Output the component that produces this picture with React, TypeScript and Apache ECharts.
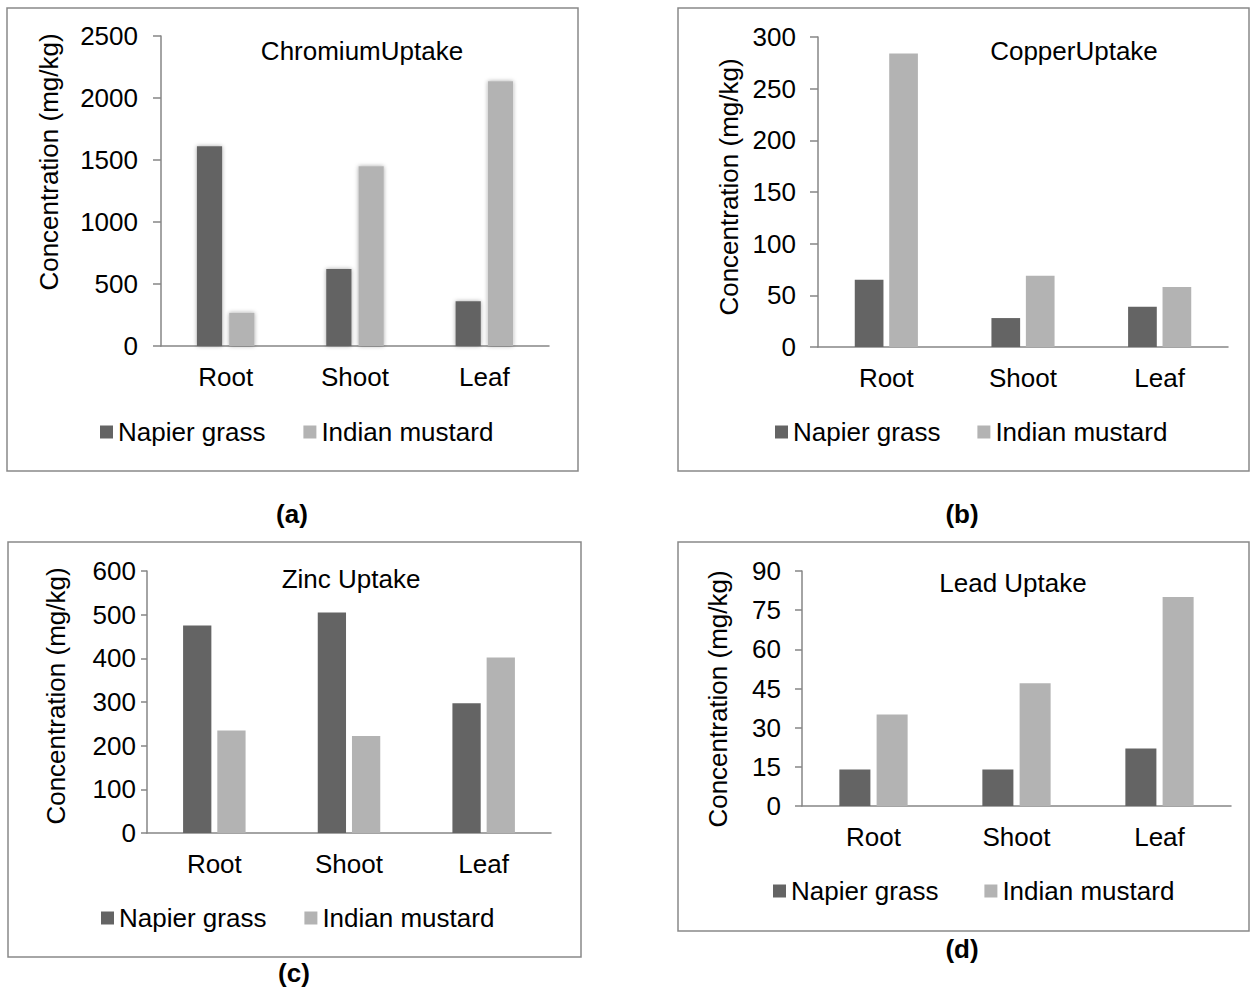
import React, { useEffect, useRef } from "react";
import * as echarts from "echarts";

const categories = ["Root", "Shoot", "Leaf"];
const seriesNames = ["Napier grass", "Indian mustard"];

const chromiumNapier = [1610, 620, 360];
const chromiumMustard = [268, 1450, 2135];
const copperNapier = [65, 28, 39];
const copperMustard = [284, 69, 58];
const zincNapier = [475, 505, 297];
const zincMustard = [235, 222, 402];
const leadNapier = [14, 14, 22];
const leadMustard = [35, 47, 80];

const titles = ["ChromiumUptake", "CopperUptake", "Zinc Uptake", "Lead Uptake"];
const captions = ["(a)", "(b)", "(c)", "(d)"];
const yMax = [2500, 300, 600, 90];
const yStep = [500, 50, 100, 15];
const yAxisTitle = "Concentration (mg/kg)";

const FONT = "Liberation Sans, Arial, sans-serif";
const DARK = "#646464";
const LIGHT = "#b3b3b3";
const AXIS = "#868686";

export default function App() {
  const ref = useRef<HTMLDivElement>(null);
  useEffect(() => {
    if (!ref.current) return;
    const chart = echarts.init(ref.current, null, { renderer: "svg" });

    const grids = [
      { left: 161, top: 36, width: 388, height: 310 },
      { left: 818, top: 37, width: 410, height: 310 },
      { left: 147, top: 571, width: 404, height: 262 },
      { left: 802, top: 571, width: 429, height: 235 },
    ];
    const labelMargins = [23, 22, 11, 21];
    const tickLens = [8, 8, 6, 7];
    const barWidths = ["19.5%", "21%", "21%", "21.7%"];
    const barGaps = ["28%", "20%", "21%", "20%"];
    const data = [
      [chromiumNapier, chromiumMustard],
      [copperNapier, copperMustard],
      [zincNapier, zincMustard],
      [leadNapier, leadMustard],
    ];
    const panels = [
      { x: 7, y: 8, w: 571, h: 463 },
      { x: 678, y: 8, w: 571, h: 463 },
      { x: 8, y: 542, w: 573, h: 415 },
      { x: 678, y: 542, w: 571, h: 389 },
    ];
    const titlePos = [
      [362, 51],
      [1074, 51],
      [351, 579],
      [1013, 583],
    ];
    const yNamePos = [
      [49, 162],
      [729, 187],
      [56, 696],
      [718, 699],
    ];
    const captionPos = [
      [292, 514],
      [962, 514],
      [294, 973],
      [962, 949],
    ];
    const legendPos = [
      { left: 95, top: 414, gap: 38 },
      { left: 770, top: 414, gap: 37 },
      { left: 96, top: 900, gap: 38 },
      { left: 768, top: 873, gap: 46 },
    ];

    const series: any[] = [];
    data.forEach((pair, i) => {
      pair.forEach((vals, j) => {
        const itemStyle: any = { color: j === 0 ? DARK : LIGHT };
        if (i === 0) {
          itemStyle.shadowBlur = 4;
          itemStyle.shadowColor = "rgba(0,0,0,0.35)";
        }
        series.push({
          type: "bar",
          name: seriesNames[j],
          xAxisIndex: i,
          yAxisIndex: i,
          data: vals,
          barWidth: barWidths[i],
          barGap: barGaps[i],
          itemStyle,
        });
      });
    });

    const graphic: any[] = [];
    panels.forEach((p) => {
      graphic.push({
        type: "rect",
        shape: { x: p.x, y: p.y, width: p.w, height: p.h },
        style: { fill: "none", stroke: "#898989", lineWidth: 1.5 },
        silent: true,
      });
    });
    titles.forEach((t, i) => {
      graphic.push({
        type: "text",
        x: titlePos[i][0],
        y: titlePos[i][1],
        style: {
          text: t,
          font: `26px ${FONT}`,
          fill: "#000",
          textAlign: "center",
          textVerticalAlign: "middle",
        },
      });
      graphic.push({
        type: "text",
        x: yNamePos[i][0],
        y: yNamePos[i][1],
        rotation: Math.PI / 2,
        style: {
          text: yAxisTitle,
          font: `26px ${FONT}`,
          fill: "#000",
          textAlign: "center",
          textVerticalAlign: "middle",
        },
      });
      graphic.push({
        type: "text",
        x: captionPos[i][0],
        y: captionPos[i][1],
        style: {
          text: captions[i],
          font: `bold 26px ${FONT}`,
          fill: "#000",
          textAlign: "center",
          textVerticalAlign: "middle",
        },
      });
    });

    const option: any = {
      animation: false,
      backgroundColor: "#fff",
      textStyle: { fontFamily: FONT },
      grid: grids,
      xAxis: grids.map((_, i) => ({
        type: "category",
        gridIndex: i,
        data: categories,
        axisLine: { lineStyle: { color: AXIS, width: 1.5 } },
        axisTick: { show: false },
        axisLabel: { color: "#000", fontSize: 26, fontFamily: FONT, margin: 18 },
      })),
      yAxis: grids.map((_, i) => ({
        type: "value",
        gridIndex: i,
        min: 0,
        max: yMax[i],
        interval: yStep[i],
        splitLine: { show: false },
        axisLine: { show: true, lineStyle: { color: AXIS, width: 1.5 } },
        axisTick: { show: true, length: tickLens[i], lineStyle: { color: AXIS, width: 1.5 } },
        axisLabel: {
          color: "#000",
          fontSize: 26,
          fontFamily: FONT,
          margin: labelMargins[i],
          formatter: (v: number) => String(v),
        },
      })),
      legend: legendPos.map((l) => ({
        data: seriesNames,
        left: l.left,
        top: l.top,
        itemGap: l.gap,
        itemWidth: 13,
        itemHeight: 13,
        icon: "rect",
        textStyle: { color: "#000", fontSize: 26, fontFamily: FONT },
        selectedMode: false,
      })),
      series,
      graphic,
    };
    chart.setOption(option);
    return () => chart.dispose();
  }, []);
  return (
    <div
      ref={ref}
      style={{ position: "absolute", left: 0, top: 0, width: 1255, height: 990, background: "#fff" }}
    />
  );
}
